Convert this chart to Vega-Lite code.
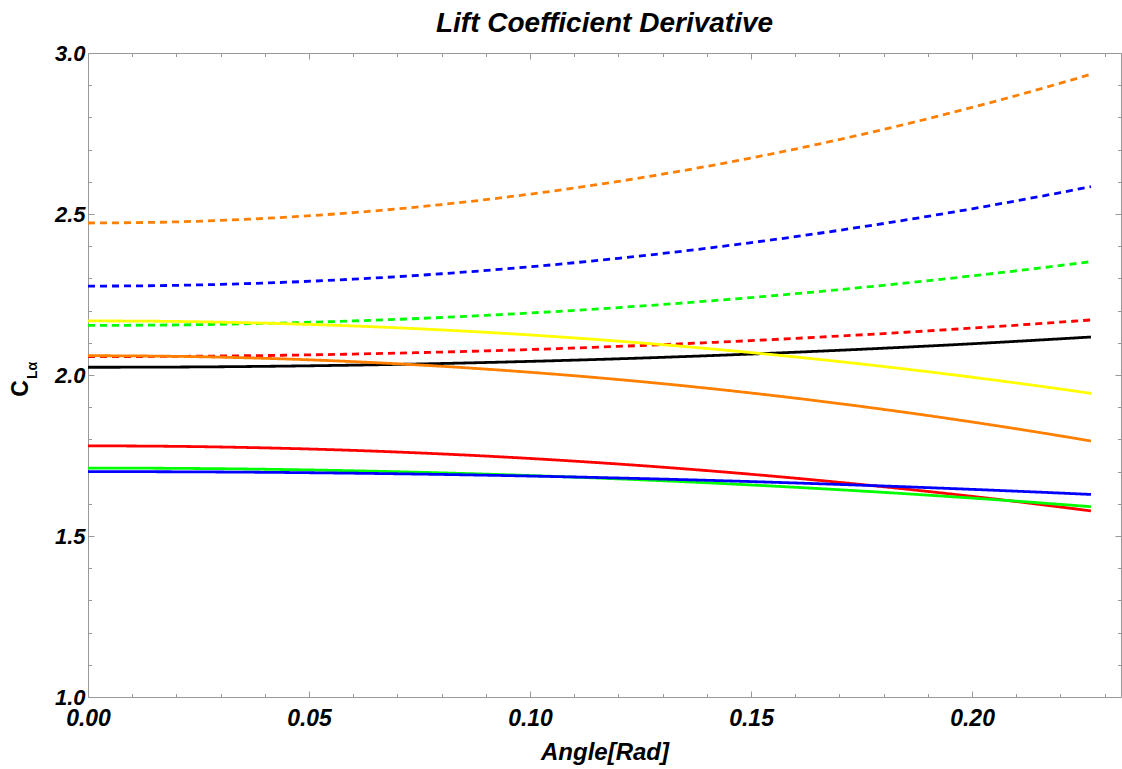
{
  "$schema": "https://vega.github.io/schema/vega-lite/v6.json",
  "autosize": "none",
  "width": 1033,
  "height": 644,
  "padding": {"left": 88, "top": 53, "right": 1, "bottom": 72},
  "background": "white",
  "config": {"view": {"stroke": null}},
  "title": {
    "text": "Lift Coefficient Derivative",
    "font": "Liberation Sans",
    "fontSize": 28,
    "fontWeight": "bold",
    "fontStyle": "italic",
    "color": "#000000",
    "anchor": "middle",
    "offset": 4
  },
  "data": {
    "values": [
      {"x": 0, "od": 2.472, "bd": 2.276, "gd": 2.154, "rd": 2.057, "k": 2.024, "y": 2.168, "o": 2.060, "r": 1.780, "g": 1.711, "b": 1.700},
      {"x": 0.02, "od": 2.4756, "bd": 2.2784, "gd": 2.1555, "rd": 2.0579, "k": 2.0247, "y": 2.1663, "o": 2.0579, "r": 1.7784, "g": 1.7101, "b": 1.6994},
      {"x": 0.04, "od": 2.4864, "bd": 2.2856, "gd": 2.1602, "rd": 2.0605, "k": 2.0269, "y": 2.1610, "o": 2.0518, "r": 1.7737, "g": 1.7073, "b": 1.6978},
      {"x": 0.06, "od": 2.5043, "bd": 2.2976, "gd": 2.1678, "rd": 2.0650, "k": 2.0306, "y": 2.1523, "o": 2.0415, "r": 1.7659, "g": 1.7026, "b": 1.6950},
      {"x": 0.08, "od": 2.5294, "bd": 2.3144, "gd": 2.1786, "rd": 2.0712, "k": 2.0357, "y": 2.1400, "o": 2.0271, "r": 1.7549, "g": 1.6961, "b": 1.6912},
      {"x": 0.10, "od": 2.5617, "bd": 2.3360, "gd": 2.1925, "rd": 2.0791, "k": 2.0423, "y": 2.1243, "o": 2.0085, "r": 1.7408, "g": 1.6877, "b": 1.6862},
      {"x": 0.12, "od": 2.6012, "bd": 2.3624, "gd": 2.2094, "rd": 2.0889, "k": 2.0503, "y": 2.1051, "o": 1.9859, "r": 1.7235, "g": 1.6774, "b": 1.6801},
      {"x": 0.14, "od": 2.6479, "bd": 2.3936, "gd": 2.2294, "rd": 2.1004, "k": 2.0598, "y": 2.0823, "o": 1.9591, "r": 1.7031, "g": 1.6653, "b": 1.6730},
      {"x": 0.16, "od": 2.7017, "bd": 2.4296, "gd": 2.2524, "rd": 2.1137, "k": 2.0707, "y": 2.0561, "o": 1.9282, "r": 1.6796, "g": 1.6513, "b": 1.6647},
      {"x": 0.18, "od": 2.7627, "bd": 2.4705, "gd": 2.2786, "rd": 2.1287, "k": 2.0832, "y": 2.0264, "o": 1.8932, "r": 1.6529, "g": 1.6355, "b": 1.6553},
      {"x": 0.20, "od": 2.8309, "bd": 2.5161, "gd": 2.3078, "rd": 2.1456, "k": 2.0970, "y": 1.9932, "o": 1.8541, "r": 1.6231, "g": 1.6178, "b": 1.6448},
      {"x": 0.22, "od": 2.9063, "bd": 2.5665, "gd": 2.3401, "rd": 2.1642, "k": 2.1124, "y": 1.9565, "o": 1.8109, "r": 1.5901, "g": 1.5982, "b": 1.6333},
      {"x": 0.2269, "od": 2.934, "bd": 2.585, "gd": 2.352, "rd": 2.171, "k": 2.118, "y": 1.943, "o": 1.795, "r": 1.578, "g": 1.591, "b": 1.629}
    ]
  },
  "transform": [
    {"fold": ["od", "bd", "gd", "rd", "k", "y", "o", "r", "g", "b"], "as": ["series", "cl"]}
  ],
  "layer": [
    {
      "mark": {"type": "line", "strokeWidth": 2.8, "interpolate": "monotone"},
      "encoding": {
        "x": {
          "field": "x", "type": "quantitative",
          "scale": {"domain": [0, 0.2337], "nice": false, "zero": false},
          "axis": {
            "orient": "bottom",
            "values": [0,0.01,0.02,0.03,0.04,0.05,0.06,0.07,0.08,0.09,0.1,0.11,0.12,0.13,0.14,0.15,0.16,0.17,0.18,0.19,0.2,0.21,0.22,0.23],
            "labelExpr": "round(datum.value*100) % 5 === 0 ? format(datum.value, '.2f') : ''",
            "tickSize": {"condition": {"test": "round(datum.value*100) % 5 === 0", "value": -6}, "value": -3.5},
            "tickColor": "#999999",
            "domainColor": "#999999",
            "grid": false,
            "labelFont": "Liberation Sans",
            "labelFontSize": 23,
            "labelFontWeight": "bold",
            "labelFontStyle": "italic",
            "labelColor": "#000000",
            "labelPadding": 16,
            "labelOverlap": false,
            "labelFlush": false,
            "labelBound": false,
            "title": "Angle[Rad]",
            "titleFont": "Liberation Sans",
            "titleFontSize": 24,
            "titleFontWeight": "bold",
            "titleFontStyle": "italic",
            "titleColor": "#000000",
            "titleBaseline": "alphabetic",
            "titleY": 62
          }
        },
        "y": {
          "field": "cl", "type": "quantitative",
          "scale": {"domain": [1, 3], "nice": false, "zero": false},
          "axis": {
            "orient": "left",
            "values": [1,1.1,1.2,1.3,1.4,1.5,1.6,1.7,1.8,1.9,2,2.1,2.2,2.3,2.4,2.5,2.6,2.7,2.8,2.9,3],
            "labelExpr": "round(datum.value*10) % 5 === 0 ? format(datum.value, '.1f') : ''",
            "tickSize": {"condition": {"test": "round(datum.value*10) % 5 === 0", "value": -6}, "value": -3.5},
            "tickColor": "#999999",
            "domainColor": "#999999",
            "grid": false,
            "labelFont": "Liberation Sans",
            "labelFontSize": 22,
            "labelFontWeight": "bold",
            "labelFontStyle": "italic",
            "labelColor": "#000000",
            "labelPadding": 9,
            "labelOverlap": false,
            "labelFlush": false,
            "labelBound": false,
            "title": "C",
            "titleFont": "Liberation Sans",
            "titleFontSize": 23,
            "titleFontWeight": "bold",
            "titleColor": "#000000",
            "titleAngle": -90,
            "titleBaseline": "alphabetic",
            "titleAlign": "center",
            "titleX": -61,
            "titleY": 335
          }
        },
        "color": {
          "field": "series", "type": "nominal",
          "scale": {
            "domain": ["od", "bd", "gd", "rd", "k", "y", "o", "r", "g", "b"],
            "range": ["#FF7F00", "#0000FF", "#00FF00", "#FF0000", "#000000", "#FFFF00", "#FF7F00", "#FF0000", "#00FF00", "#0000FF"]
          },
          "legend": null
        },
        "strokeDash": {
          "field": "series", "type": "nominal",
          "scale": {
            "domain": ["od", "bd", "gd", "rd", "k", "y", "o", "r", "g", "b"],
            "range": [[7, 5], [7, 5], [7, 5], [7, 5], [1, 0], [1, 0], [1, 0], [1, 0], [1, 0], [1, 0]]
          },
          "legend": null
        }
      }
    },
    {
      "mark": {"type": "line", "opacity": 0},
      "encoding": {
        "detail": {"field": "series"},
        "x": {
          "field": "x", "type": "quantitative",
          "axis": {
            "orient": "top",
            "values": [0,0.01,0.02,0.03,0.04,0.05,0.06,0.07,0.08,0.09,0.1,0.11,0.12,0.13,0.14,0.15,0.16,0.17,0.18,0.19,0.2,0.21,0.22,0.23],
            "labels": false,
            "tickSize": {"condition": {"test": "round(datum.value*100) % 5 === 0", "value": -6}, "value": -3.5},
            "tickColor": "#999999",
            "domainColor": "#999999",
            "grid": false,
            "title": null
          }
        },
        "y": {
          "field": "cl", "type": "quantitative",
          "axis": {
            "orient": "right",
            "values": [1,1.1,1.2,1.3,1.4,1.5,1.6,1.7,1.8,1.9,2,2.1,2.2,2.3,2.4,2.5,2.6,2.7,2.8,2.9,3],
            "labels": false,
            "tickSize": {"condition": {"test": "round(datum.value*10) % 5 === 0", "value": -6}, "value": -3.5},
            "tickColor": "#999999",
            "domainColor": "#999999",
            "grid": false,
            "title": null
          }
        }
      }
    },
    {
      "mark": {"type": "line", "opacity": 0},
      "encoding": {
        "detail": {"field": "series"},
        "x": {"field": "x", "type": "quantitative", "axis": null},
        "y": {
          "field": "cl", "type": "quantitative",
          "axis": {
            "orient": "left",
            "domain": false,
            "ticks": false,
            "labels": false,
            "grid": false,
            "title": "Lα",
            "titleFont": "Liberation Sans",
            "titleFontSize": 14,
            "titleFontWeight": "bold",
            "titleColor": "#000000",
            "titleAngle": -90,
            "titleBaseline": "alphabetic",
            "titleAlign": "center",
            "titleX": -52,
            "titleY": 317
          }
        }
      }
    }
  ],
  "resolve": {"axis": {"x": "independent", "y": "independent"}}
}
